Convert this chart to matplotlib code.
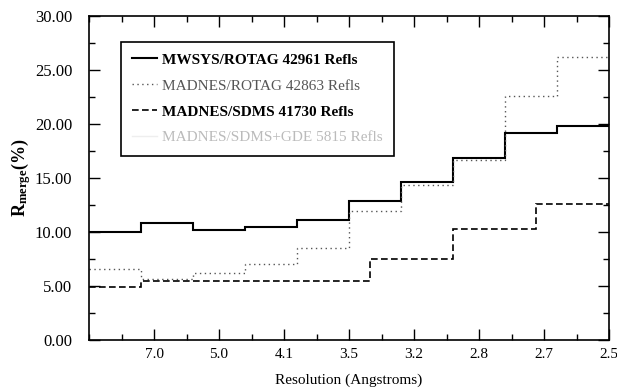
import numpy as np
import matplotlib
matplotlib.use('Agg')
import matplotlib.pyplot as plt
from matplotlib.ticker import MultipleLocator, FormatStrFormatter

plt.rcParams['font.family'] = ['Liberation Serif', 'DejaVu Serif']
plt.rcParams['mathtext.fontset'] = 'custom'
plt.rcParams['mathtext.rm'] = 'Liberation Serif'
plt.rcParams['mathtext.bf'] = 'Liberation Serif:bold'

# resolution shells (tick labels) and bin edges in shell units
res_labels = ['7.0', '5.0', '4.1', '3.5', '3.2', '2.8', '2.7', '2.5']
edges = np.arange(11)
sdms_edges = [0, 1, 5.4, 7, 8.6, 10]

mwsys_rotag = [10.0, 10.8, 10.2, 10.45, 11.15, 12.85, 14.6, 16.85, 19.2, 19.85]
madnes_rotag = [6.6, 5.65, 6.2, 7.0, 8.55, 11.9, 14.35, 16.7, 22.6, 26.2]
madnes_sdms = [4.9, 5.5, 7.5, 10.3, 12.6]

labels = ['MWSYS/ROTAG 42961 Refls', 'MADNES/ROTAG 42863 Refls',
          'MADNES/SDMS 41730 Refls', 'MADNES/SDMS+GDE 5815 Refls']

fig = plt.figure(figsize=(6.17, 3.92), dpi=100)
ax = fig.add_axes([89 / 617, 1 - 340 / 392, 520 / 617, 324 / 392])

ax.stairs(mwsys_rotag, edges, baseline=None, color='black', lw=1.5,
          label=labels[0])
ax.stairs(madnes_rotag, edges, baseline=None, color='#555555', lw=1.0,
          linestyle=(0, (1, 2.5)), label=labels[1])
ax.stairs(madnes_sdms, sdms_edges, baseline=None, color='black', lw=1.2,
          linestyle=(0, (4, 2)), label=labels[2])
ax.plot([], [], color='#eeeeee', lw=1.0, label=labels[3])

ax.set_xlim(0, 10)
ax.set_ylim(0, 30)
ax.set_xticks([1.25 * (i + 1) for i in range(len(res_labels))])
ax.set_xticklabels(res_labels)
ax.xaxis.set_minor_locator(MultipleLocator(0.625))
ax.yaxis.set_major_locator(MultipleLocator(5))
ax.yaxis.set_minor_locator(MultipleLocator(2.5))
ax.yaxis.set_major_formatter(FormatStrFormatter('%.2f'))
ax.tick_params(which='both', direction='in', top=True, right=True, width=1)
ax.tick_params(axis='y', labelsize=12)
ax.tick_params(axis='x', labelsize=11)
ax.tick_params(which='major', length=8)
ax.tick_params(axis='y', which='major', pad=12)
ax.tick_params(axis='x', which='major', pad=6)
ax.tick_params(which='minor', length=4)
for s in ax.spines.values():
    s.set_linewidth(1.2)

ax.set_xlabel('Resolution (Angstroms)', fontsize=11, labelpad=9)
ax.set_ylabel(r'$\mathbf{R_{merge}}$(%)', fontsize=13, fontweight='bold',
              labelpad=1)

leg = ax.legend(loc='upper left', bbox_to_anchor=(0.061, 0.921),
                borderaxespad=0, fancybox=False, framealpha=1,
                edgecolor='black', fontsize=11, handlelength=1.6,
                handletextpad=0.35, labelspacing=0.8, borderpad=0.75)
leg.get_frame().set_linewidth(1.2)
txt = leg.get_texts()
txt[0].set_fontweight('bold')
txt[1].set_color('#555555')
txt[2].set_fontweight('bold')
txt[3].set_color('#bbbbbb')

fig.savefig('out.png', dpi=100)
